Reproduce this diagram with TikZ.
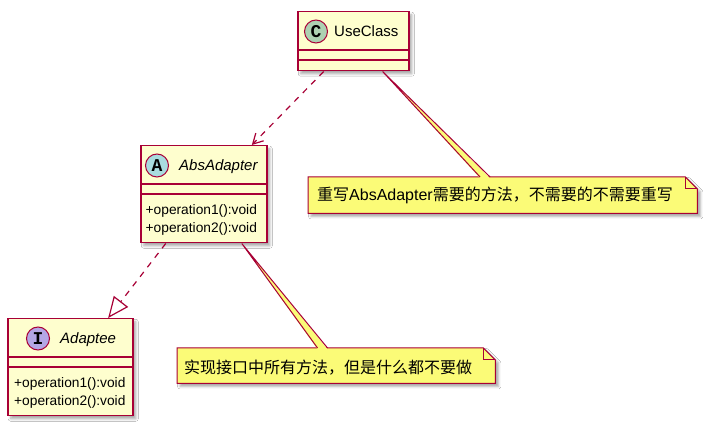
\documentclass[tikz,border=0pt]{standalone}
\usepackage{fontspec}
\setmainfont{Liberation Sans}
\newfontfamily\cjk{Noto Sans CJK SC}
\newfontfamily\spotfont{Liberation Mono}
\usetikzlibrary{arrows.meta,calc,shadows.blur}
\definecolor{clsfill}{HTML}{FEFECE}
\definecolor{clsborder}{HTML}{A80036}
\definecolor{notefill}{HTML}{FBFB77}
\definecolor{spotC}{HTML}{ADD1B2}
\definecolor{spotA}{HTML}{A9DCDF}
\definecolor{spotI}{HTML}{B4A7E5}
\tikzset{
  shad/.style={blur shadow={shadow xshift=3pt,shadow yshift=-3pt,shadow blur radius=2.5pt,shadow opacity=35}},
  cls/.style={draw=clsborder,fill=clsfill,line width=1.5pt,inner sep=0pt,anchor=north west,shad},
  sepline/.style={draw=clsborder,line width=1.5pt},
  spot/.style={circle,draw=clsborder,line width=1pt,minimum size=23pt,inner sep=0pt,font=\spotfont\bfseries\fontsize{18}{18}\selectfont},
  clsname/.style={anchor=base west,inner sep=0pt,font=\fontsize{15}{15}\selectfont},
  opname/.style={anchor=base west,inner sep=0pt,font=\fontsize{13.75}{14}\selectfont},
  notebox/.style={rectangle,inner sep=0pt,anchor=north west},
  noteshape/.style={draw=clsborder,fill=notefill,line width=1pt,shad},
  notetext/.style={anchor=base west,inner sep=0pt,font=\fontsize{16}{16}\selectfont},
  noteline/.style={draw=clsborder,line width=1pt},
  dep/.style={draw=clsborder,line width=1.2pt,dash pattern=on 6pt off 6pt,-{Straight Barb[length=10pt,width=11pt,line width=1.2pt]}},
  real/.style={draw=clsborder,line width=1.2pt,dash pattern=on 6pt off 6pt,-{Triangle[open,length=21pt,width=18pt,line width=1.2pt,fill=white]}}
}
\begin{document}
\begin{tikzpicture}[x=1pt,y=-1pt]
\useasboundingbox[fill=white] (0,0) rectangle (710,427);

% UseClass
\node[cls,minimum width=111pt,minimum height=59pt] (use) at (297,11) {};
\draw[sepline] ($(use.north west)+(0,39)$) -- ($(use.north east)+(0,39)$);
\draw[sepline] ($(use.north west)+(0,49)$) -- ($(use.north east)+(0,49)$);
\node[spot,fill=spotC] (useC) at (316,31.5) {C};
\node[clsname] (useN) at (334,37) {UseClass};

% AbsAdapter
\node[cls,minimum width=126pt,minimum height=97pt] (abs) at (140,145) {};
\draw[sepline] ($(abs.north west)+(0,39)$) -- ($(abs.north east)+(0,39)$);
\draw[sepline] ($(abs.north west)+(0,49)$) -- ($(abs.north east)+(0,49)$);
\node[spot,fill=spotA] (absA) at (157,165.5) {A};
\node[clsname] (absN) at (179,171) {\itshape AbsAdapter};
\node[opname] (absO1) at (145.5,215) {+operation1():void};
\node[opname] (absO2) at (145.5,233) {+operation2():void};

% Adaptee
\node[cls,minimum width=125pt,minimum height=97pt] (adp) at (7,318) {};
\draw[sepline] ($(adp.north west)+(0,39)$) -- ($(adp.north east)+(0,39)$);
\draw[sepline] ($(adp.north west)+(0,49)$) -- ($(adp.north east)+(0,49)$);
\node[spot,fill=spotI] (adpI) at (38,338.5) {I};
\node[clsname] (adpN) at (60,344) {\itshape Adaptee};
\node[opname] (adpO1) at (14,388) {+operation1():void};
\node[opname] (adpO2) at (14,406) {+operation2():void};

% Note 1
\node[notebox,minimum width=389pt,minimum height=36pt] (n1) at (308,177) {};
\path[noteshape] (n1.north west) -- ($(n1.north east)+(-12,0)$) -- ($(n1.north east)+(0,12)$) -- (n1.south east) -- (n1.south west) -- cycle;
\draw[noteline] ($(n1.north east)+(-12,0)$) -- ($(n1.north east)+(-12,12)$) -- ($(n1.north east)+(0,12)$);
\node[notetext] (n1t) at (317,201) {{\cjk 重写}AbsAdapter{\cjk 需要的方法，不需要的不需要重写}};

% Note 2
\node[notebox,minimum width=318pt,minimum height=35pt] (n2) at (177,348) {};
\path[noteshape] (n2.north west) -- ($(n2.north east)+(-12,0)$) -- ($(n2.north east)+(0,12)$) -- (n2.south east) -- (n2.south west) -- cycle;
\draw[noteline] ($(n2.north east)+(-12,0)$) -- ($(n2.north east)+(-12,12)$) -- ($(n2.north east)+(0,12)$);
\node[notetext] (n2t) at (184,374) {\cjk 实现接口中所有方法，但是什么都不要做};

% note wedges
\path (use) -- (n1) coordinate[pos=0] (w1a) coordinate[pos=1] (w1b);
\fill[notefill] (w1a) -- ($(w1b)+(-5,1.2)$) -- ($(w1b)+(5,1.2)$) -- cycle;
\draw[noteline] ($(w1b)+(-5,0)$) -- (w1a) -- ($(w1b)+(5,0)$);
\path (abs) -- (n2) coordinate[pos=0] (w2a) coordinate[pos=1] (w2b);
\fill[notefill] (w2a) -- ($(w2b)+(-5,1.2)$) -- ($(w2b)+(5,1.2)$) -- cycle;
\draw[noteline] ($(w2b)+(-5,0)$) -- (w2a) -- ($(w2b)+(5,0)$);

% relations
\draw[dep] (use) -- (abs);
\draw[real] (abs) -- (adp);
\end{tikzpicture}
\end{document}
